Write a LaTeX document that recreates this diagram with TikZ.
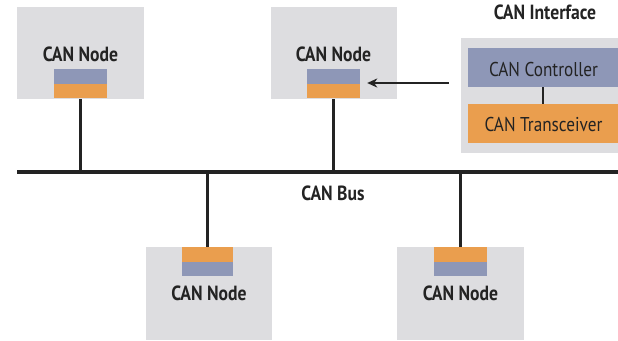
\documentclass[tikz,border=0pt]{standalone}
\usepackage{fontspec}
\setmainfont[FakeStretch=0.86]{PT Sans}
\usetikzlibrary{arrows.meta}
\definecolor{boxgray}{RGB}{221,221,224}
\definecolor{ctrlblue}{RGB}{142,151,183}
\definecolor{xcvrorange}{RGB}{234,158,78}
\definecolor{inkline}{RGB}{35,35,35}
\tikzset{
  nodebox/.style={fill=boxgray, draw=none, inner sep=0pt},
  ctrl/.style={fill=ctrlblue, draw=none, inner sep=0pt},
  xcvr/.style={fill=xcvrorange, draw=none, inner sep=0pt},
  title/.style={font=\bfseries\fontsize{20.5}{22}\selectfont, text=inkline, anchor=base, inner sep=0pt},
  plain/.style={font=\fontsize{20}{22}\selectfont, text=inkline, anchor=base, inner sep=0pt},
  drop/.style={draw=inkline, line width=2.2pt},
  busline/.style={draw=inkline, line width=3.2pt},
}
\begin{document}
\begin{tikzpicture}[x=1pt, y=-1pt]
\useasboundingbox (0,0) rectangle (618,340);
% top-left node
\node[nodebox, minimum width=127pt, minimum height=92pt] (n1) at (80.5,53) {};
\node[ctrl, minimum width=53pt, minimum height=15pt] (c1) at (80.5,76.5) {};
\node[xcvr, minimum width=53pt, minimum height=14pt] (t1) at (80.5,91) {};
\node[title] (l1) at (80.5,61) {CAN Node};
% top-middle node
\node[nodebox, minimum width=126pt, minimum height=92pt] (n2) at (334,53) {};
\node[ctrl, minimum width=53pt, minimum height=15pt] (c2) at (333.5,76.5) {};
\node[xcvr, minimum width=53pt, minimum height=14pt] (t2) at (333.5,91) {};
\node[title] (l2) at (333.5,61) {CAN Node};
% bottom-left node
\node[nodebox, minimum width=126pt, minimum height=93pt] (n3) at (209,293.5) {};
\node[xcvr, minimum width=51pt, minimum height=15pt] (t3) at (207.5,254.5) {};
\node[ctrl, minimum width=51pt, minimum height=14pt] (c3) at (207.5,269) {};
\node[title] (l3) at (209,300) {CAN Node};
% bottom-right node
\node[nodebox, minimum width=127pt, minimum height=93pt] (n4) at (460.5,293.5) {};
\node[xcvr, minimum width=53pt, minimum height=15pt] (t4) at (460.5,254.5) {};
\node[ctrl, minimum width=53pt, minimum height=14pt] (c4) at (460.5,269) {};
\node[title] (l4) at (460.5,300) {CAN Node};
% CAN interface
\node[title] (ift) at (545,19) {CAN Interface};
\node[nodebox, minimum width=157pt, minimum height=115pt] (ifc) at (539.5,95.5) {};
\node[ctrl, minimum width=150pt, minimum height=39pt] (ctl) at (543,67.5) {};
\node[xcvr, minimum width=150pt, minimum height=39pt] (trx) at (543,123.5) {};
\node[plain] (ctlt) at (543.5,76) {CAN Controller};
\node[plain] (trxt) at (543.5,131) {CAN Transceiver};
\draw[drop, line width=2.6pt] (ctl.south) -- (trx.north);
% bus
\coordinate (busL) at (17,172);
\coordinate (busR) at (618,172);
\draw[busline] (busL) -- (busR);
\node[title] (busl) at (333,200) {CAN Bus};
% drops
\draw[drop] (n1.south) -- (n1.south |- busL);
\draw[drop] (n2.south -| c2.south) -- (c2.south |- busL);
\draw[drop] (t3.north) -- (t3.north |- busL);
\draw[drop] (t4.north) -- (t4.north |- busL);
% arrow
\path (ifc.west) ++(-12,-12.5) coordinate (as);
\draw[draw=inkline, line width=2.2pt, -{Stealth[length=10pt, width=9pt, inset=3pt]}] (as) -- ([xshift=7pt]c2.east |- as);
\end{tikzpicture}
\end{document}
